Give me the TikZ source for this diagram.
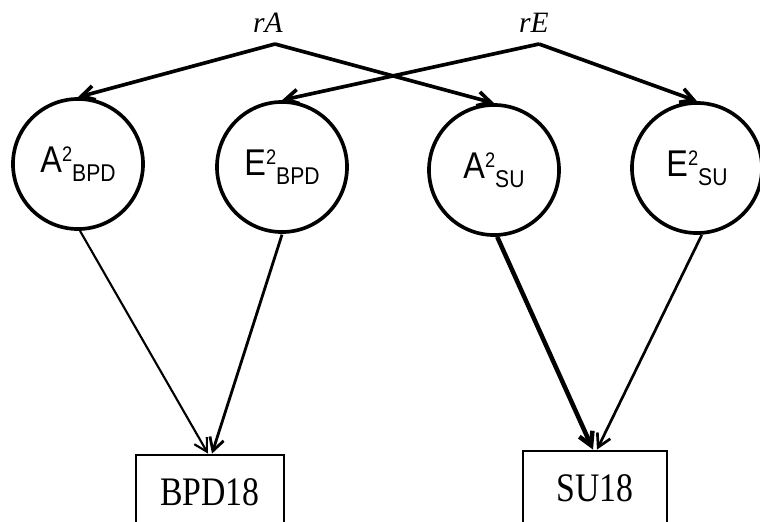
\documentclass[tikz,border=0pt]{standalone}
\usepackage{fontspec}
\setmainfont{Liberation Serif}
\setsansfont{Liberation Sans}
\usetikzlibrary{arrows.meta,positioning}

% variance component label: letter, superscript, subscript
\newcommand{\varcomp}[3]{\scalebox{1}[1.15]{\fontsize{23}{23}\selectfont #1\raisebox{7pt}{\fontsize{13}{13}\selectfont #2}\raisebox{-5.5pt}{\fontsize{15}{15}\selectfont #3}}}
\newcommand{\tallbox}[1]{\scalebox{1}[1.2]{#1}}

\begin{document}
\begin{tikzpicture}[x=0.025cm, y=-0.025cm, >={Straight Barb[length=3.2mm,width=3.6mm]},
  latent/.style={circle, draw, line width=2.6pt, minimum size=3.25cm, inner sep=0pt, font=\sffamily},
  observed/.style={rectangle, draw, line width=2pt, minimum height=1.85cm, font=\fontsize{24}{24}\selectfont},
  corr/.style={font=\itshape\fontsize{21}{21}\selectfont}]
  \useasboundingbox (0,0) rectangle (760,521);

  % correlations
  \node[corr] (rA) at (268,23) {rA};
  \node[corr] (rE) at (534,23) {rE};
  \coordinate (rAtop) at (275,44);
  \coordinate (rEtop) at (539,44);

  % latent factors
  \node[latent] (A2bpd) at (78,164) {\varcomp{A}{2}{BPD}};
  \node[latent] (E2bpd) at (282,167) {\varcomp{E}{2}{BPD}};
  \node[latent] (A2su) at (494,170) {\varcomp{A}{2}{SU}};
  \node[latent] (E2su) at (697,168) {\varcomp{E}{2}{SU}};

  % observed measures
  \node[observed, minimum width=3.7cm] (bpd18) at (210,492) {\tallbox{BPD18}};
  \node[observed, minimum width=3.6cm] (su18) at (595,488) {\tallbox{SU18}};

  \draw[->, line width=2.6pt] (rAtop) -- (A2bpd.north);
  \draw[->, line width=2.6pt] (rAtop) -- (A2su.north);
  \draw[->, line width=2.6pt] (rEtop) -- (E2bpd.north);
  \draw[->, line width=2.6pt] (rEtop) -- (E2su.north);

  \draw[->, line width=1.5pt] ([xshift=0.05cm]A2bpd.south) -- ([xshift=-0.05cm]bpd18.north);
  \draw[->, line width=2pt] ([yshift=-0.02cm]E2bpd.south) -- ([xshift=0.05cm]bpd18.north);
  \draw[->, line width=3.2pt] ([xshift=0.08cm]A2su.south) -- ([xshift=-0.05cm]su18.north);
  \draw[->, line width=1.9pt] ([xshift=0.12cm]E2su.south) -- ([xshift=0.05cm]su18.north);
\end{tikzpicture}
\end{document}
